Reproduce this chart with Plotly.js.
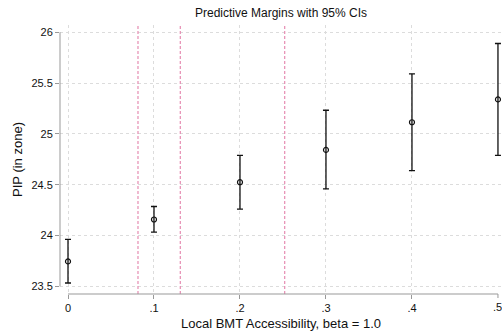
<!DOCTYPE html>
<html><head><meta charset="utf-8">
<script src="https://cdn.plot.ly/plotly-3.0.1.min.js"></script>
<style>html,body{margin:0;padding:0;background:#fff}#c{width:502px;height:333px}</style>
</head><body><div id="c"></div>
<script>
const xVals = [0, 0.1, 0.2, 0.3, 0.4, 0.5];
const margins = [23.746, 24.158, 24.525, 24.843, 25.115, 25.34];
const ciUpper = [23.962, 24.286, 24.79, 25.233, 25.592, 25.89];
const ciLower = [23.533, 24.034, 24.26, 24.46, 24.64, 24.79];
const xTickVals = [0, 0.1, 0.2, 0.3, 0.4];
const xTickText = ["0", ".1", ".2", ".3", ".4"];
const xEdgeTickVal = 0.5;
const xEdgeTickText = ".5";
const yTickVals = [23.5, 24, 24.5, 25, 25.5, 26];
const yTickText = ["23.5", "24", "24.5", "25", "25.5", "26"];
const refLines = [0.0814, 0.1306, 0.252];

const font = "Liberation Sans, Arial, Helvetica, sans-serif";
const trace = {
  x: xVals, y: margins, type: 'scatter', mode: 'markers',
  marker: {symbol: 'circle-open', size: 5, color: '#111', line: {width: 1.2, color: '#111'}},
  error_y: {type: 'data', symmetric: false,
    array: ciUpper.map((u, i) => u - margins[i]),
    arrayminus: ciLower.map((l, i) => margins[i] - l),
    color: '#111', thickness: 1.3, width: 3},
  cliponaxis: false, showlegend: false
};
const shapes = [];
refLines.forEach(v => shapes.push({type: 'line', xref: 'x', yref: 'paper', x0: v, x1: v, y0: 0, y1: 1,
  line: {color: 'rgb(230,140,178)', width: 1.2, dash: '3px,2px'}, layer: 'above'}));
shapes.push({type: 'line', xref: 'paper', yref: 'y', x0: 0, x1: 0, y0: 23.5, y1: 26, line: {color: '#999', width: 1}});
shapes.push({type: 'line', xref: 'x', yref: 'paper', x0: 0, x1: 0.5, y0: 0, y1: 0, line: {color: '#999', width: 1}});
shapes.push({type: 'line', xref: 'x', yref: 'paper', x0: xEdgeTickVal, x1: xEdgeTickVal, y0: 0, y1: 0, ysizemode: 'pixel', yanchor: 0, y0: 0, y1: -4, line: {color: '#999', width: 1}});

const layout = {
  width: 502, height: 333,
  margin: {l: 60, r: 0, t: 25, b: 39},
  paper_bgcolor: '#fff', plot_bgcolor: '#fff',
  font: {family: font, size: 11, color: '#111'},
  title: {text: 'Predictive Margins with 95% CIs', font: {family: font, size: 12, color: '#111'},
    x: 0.5, xref: 'paper', xanchor: 'center', y: 1, yref: 'container', yanchor: 'top', pad: {t: 9}},
  xaxis: {range: [-0.0093, 0.5047], tickvals: xTickVals, ticktext: xTickText,
    showline: false, zeroline: false, ticks: 'outside', ticklen: 4, tickcolor: '#999', tickwidth: 1,
    showgrid: true, gridcolor: '#dcdcdc', griddash: 'dot', gridwidth: 1,
    tickfont: {family: font, size: 11, color: '#111'},
    title: {text: 'Local BMT Accessibility, beta = 1.0', font: {family: font, size: 13, color: '#111'}, standoff: 5}},
  yaxis: {range: [23.425, 26.072], tickvals: yTickVals, ticktext: yTickText,
    showline: false, zeroline: false, ticks: 'outside', ticklen: 4, tickcolor: '#999', tickwidth: 1,
    showgrid: true, gridcolor: '#dcdcdc', griddash: 'dot', gridwidth: 1,
    tickfont: {family: font, size: 11, color: '#111'},
    title: {text: 'PIP (in zone)', font: {family: font, size: 13, color: '#111'}, standoff: 5}},
  annotations: [{x: xEdgeTickVal, xref: 'x', y: 0, yref: 'paper', yanchor: 'top', xanchor: 'center',
    yshift: -5, text: xEdgeTickText, showarrow: false, font: {family: font, size: 11, color: '#111'}}],
  shapes: shapes
};
Plotly.newPlot('c', [trace], layout, {staticPlot: true, displayModeBar: false});
</script></body></html>
